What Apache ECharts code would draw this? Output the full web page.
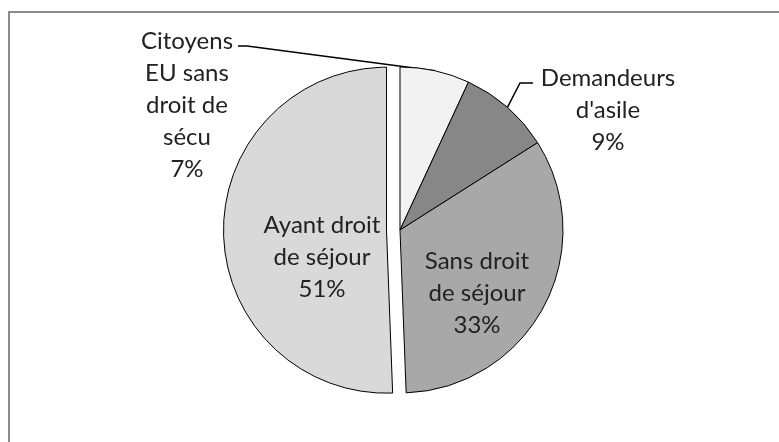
<!DOCTYPE html>
<html>
<head>
<meta charset="utf-8">
<script src="https://cdn.jsdelivr.net/npm/echarts@6/dist/echarts.min.js"></script>
<style>
html,body{margin:0;padding:0;background:#fff;}
#chart{width:779px;height:442px;}
</style>
</head>
<body>
<div id="chart"></div>
<script>
// Data
var categories = ['Citoyens\nEU sans\ndroit de\nsécu', 'Demandeurs\nd\'asile', 'Sans droit\nde séjour', 'Ayant droit\nde séjour'];
var values = [6.9, 9.1, 33.4, 50.6];
var colors = ['#f2f2f2', '#878787', '#a8a8a8', '#d9d9d9'];
var explodedIndex = 3;

// layout only
var pieCenter = [400, 230];
var explodedCenter = [386.5, 230.2];
var pieRadius = 163;
var labelPos = [
  {x: 187, y: 105, line: [[247, 46], [238, 46]]},
  {x: 608, y: 110, line: [[520, 83], [533, 83]]},
  {x: 477, y: 293},
  {x: 322, y: 257}
];

var chart = echarts.init(document.getElementById('chart'), null, {renderer: 'canvas'});

var hidden = {color: 'rgba(0,0,0,0)', borderWidth: 0};

function buildData(forExploded) {
  return categories.map(function (c, i) {
    var isExp = (i === explodedIndex);
    var visible = forExploded ? isExp : !isExp;
    var inside = (i >= 2);
    return {
      name: c,
      value: values[i],
      itemStyle: visible ? {color: colors[i], borderColor: '#000', borderWidth: 1} : hidden,
      label: {show: visible, position: inside ? 'inside' : 'outside'},
      labelLine: {show: visible && !inside}
    };
  });
}

var common = {
  type: 'pie',
  radius: pieRadius,
  startAngle: 90,
  clockwise: true,
  percentPrecision: 0,
  avoidLabelOverlap: false,
  silent: true,
  emphasis: {disabled: true},
  label: {
    formatter: '{b}\n{d}%',
    fontFamily: 'Lato, "Open Sans", sans-serif',
    fontSize: 24,
    lineHeight: 32,
    color: '#222',
    align: 'center'
  },
  labelLine: {
    length: 20,
    length2: 10,
    lineStyle: {color: '#000', width: 1.5}
  },
  labelLayout: function (p) {
    var lp = labelPos[p.dataIndex];
    var res = {x: lp.x, y: lp.y, align: 'center', verticalAlign: 'middle'};
    if (lp.line && p.labelLinePoints) {
      res.labelLinePoints = [p.labelLinePoints[0], lp.line[0], lp.line[1]];
    }
    return res;
  }
};

chart.setOption({
  animation: false,
  backgroundColor: '#ffffff',
  graphic: [{
    type: 'rect',
    shape: {x: 9, y: 12, width: 800, height: 500},
    style: {fill: 'none', stroke: '#8c8c8c', lineWidth: 2},
    silent: true
  }],
  series: [
    Object.assign({}, common, {name: 'main', center: pieCenter, data: buildData(false)}),
    Object.assign({}, common, {name: 'exploded', center: explodedCenter, data: buildData(true)})
  ]
});
</script>
</body>
</html>
